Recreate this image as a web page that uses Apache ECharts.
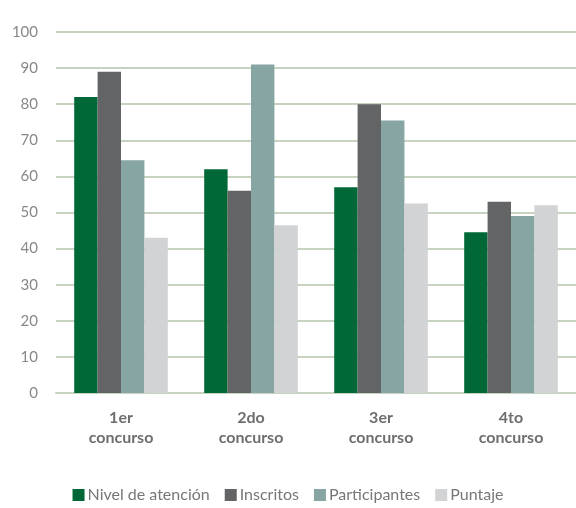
<!DOCTYPE html>
<html><head><meta charset="utf-8">
<script src="https://cdn.jsdelivr.net/npm/echarts@6/dist/echarts.min.js"></script>
<style>html,body{margin:0;padding:0;background:#fff}#c{width:576px;height:508px}</style>
</head><body><div id="c"></div>
<script>
const categories = ['1er\nconcurso', '2do\nconcurso', '3er\nconcurso', '4to\nconcurso'];
const seriesNames = ['Nivel de atención', 'Inscritos', 'Participantes', 'Puntaje'];
const nivelAtencion = [82, 62, 57, 44.5];
const inscritos = [89, 56, 80, 53];
const participantes = [64.5, 91, 75.5, 49];
const puntaje = [43, 46.5, 52.5, 52];
const colors = ['#006837', '#636466', '#86a5a3', '#d1d3d4'];
const yTicks = [0, 10, 20, 30, 40, 50, 60, 70, 80, 90, 100];
const values = [nivelAtencion, inscritos, participantes, puntaje];

const chart = echarts.init(document.getElementById('c'));
chart.setOption({
  animation: false,
  textStyle: { fontFamily: 'Lato' },
  legend: {
    bottom: 0, left: 'center', itemWidth: 12, itemHeight: 12, itemGap: 15,
    icon: 'rect',
    textStyle: { color: '#777', fontSize: 16, fontFamily: 'Lato', padding: [0, 0, 0, -2] },
    data: seriesNames
  },
  grid: { left: 56, right: 0, top: 32, bottom: 115 },
  xAxis: {
    type: 'category', data: categories,
    axisLine: { lineStyle: { color: '#c5d3c0', width: 2 } },
    axisTick: { show: false },
    axisLabel: { color: '#6d6e70', fontSize: 16, fontWeight: 'bold', lineHeight: 20, margin: 15, fontFamily: 'Lato' }
  },
  yAxis: {
    type: 'value', min: yTicks[0], max: yTicks[yTicks.length - 1], interval: 10,
    axisLine: { show: false }, axisTick: { show: false },
    splitLine: { lineStyle: { color: '#c5d3c0', width: 2 } },
    axisLabel: { color: '#888', fontSize: 15, margin: 18, fontFamily: 'Lato' }
  },
  series: seriesNames.map((n, i) => ({
    name: n, type: 'bar', data: values[i], barGap: '0%', barCategoryGap: '28%',
    itemStyle: { color: colors[i] }
  }))
});
</script></body></html>
